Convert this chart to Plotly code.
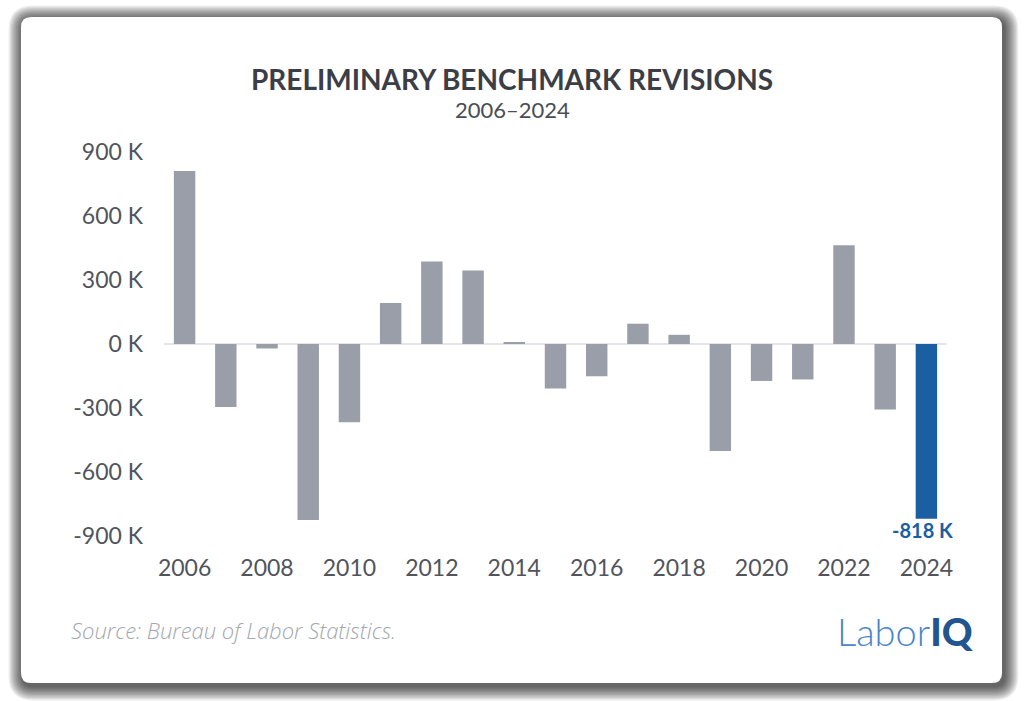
import plotly.graph_objects as go

years = list(range(2006, 2025))
revisions_k = [810, -295, -21, -824, -366, 192, 386, 344, 7, -208, -151, 95, 43,
               -501, -173, -166, 462, -306, -818]
y_ticks = [-900, -600, -300, 0, 300, 600, 900]
y_tick_labels = [f"{v} K" for v in y_ticks]
x_ticks = list(range(2006, 2025, 2))
title_text = "PRELIMINARY BENCHMARK REVISIONS"
subtitle_text = "2006\u20132024"
source_text = "Source: Bureau of Labor Statistics."

W, H = 1024, 701
ML, MR, MT, MB = 164, 77, 141, 154
PW, PH = W - ML - MR, H - MT - MB

GRAY = "#9a9ea8"
BLUE = "#1b5fa2"
colors = [GRAY] * (len(years) - 1) + [BLUE]


def px(x):
    return (x - ML) / PW


def py(y):
    return 1 - (y - MT) / PH


def rrect(x0, y0, x1, y1, r):
    pts = [
        f"M {px(x0 + r)} {py(y0)}",
        f"L {px(x1 - r)} {py(y0)}",
        f"Q {px(x1)} {py(y0)} {px(x1)} {py(y0 + r)}",
        f"L {px(x1)} {py(y1 - r)}",
        f"Q {px(x1)} {py(y1)} {px(x1 - r)} {py(y1)}",
        f"L {px(x0 + r)} {py(y1)}",
        f"Q {px(x0)} {py(y1)} {px(x0)} {py(y1 - r)}",
        f"L {px(x0)} {py(y0 + r)}",
        f"Q {px(x0)} {py(y0)} {px(x0 + r)} {py(y0)} Z",
    ]
    return " ".join(pts)


shapes = []
# soft shadow
cx0, cy0, cx1, cy1 = 21, 17, 1002, 683
for i in range(12, 0, -1):
    e = i * 1.2
    shapes.append(dict(
        type="path", xref="paper", yref="paper", layer="below",
        path=rrect(cx0 - e + 2, cy0 - e + 3, cx1 + e + 2, cy1 + e + 3, 10 + e),
        fillcolor="rgba(0,0,0,0.07)", line=dict(width=0),
    ))
shapes.append(dict(
    type="path", xref="paper", yref="paper", layer="below",
    path=rrect(cx0, cy0, cx1, cy1, 10),
    fillcolor="white", line=dict(width=0),
))

fig = go.Figure()
fig.add_trace(go.Bar(
    x=years, y=revisions_k, marker=dict(color=colors, line=dict(width=0)),
    width=0.52, hoverinfo="x+y",
))

annotations = [
    dict(text=f"<b>{title_text}</b>", x=512, y=79, xanchor="center",
         font=dict(family="Lato", size=28, color="#3b3e46")),
    dict(text=subtitle_text, x=512, y=110, xanchor="center",
         font=dict(family="Lato", size=22, color="#4a4d55")),
    dict(text=source_text, x=69, y=630, xanchor="left",
         font=dict(family="Open Sans", size=22, color="#a3a7ae", style="italic", weight=300)),
    dict(text='Labor<span style="font-weight:900;color:#22558f">IQ</span>',
         x=835, y=631, xanchor="left",
         font=dict(family="Lato", size=38, color="#4a86c8", weight=300)),
]
for a in annotations:
    a["xref"] = "paper"
    a["yref"] = "paper"
    a["yanchor"] = "middle"
    a["showarrow"] = False
    a["x"] = px(a["x"])
    a["y"] = py(a["y"])

# value label for the latest year
annotations.append(dict(
    x=years[-1], y=revisions_k[-1], xref="x", yref="y",
    text=f"<b>{revisions_k[-1]} K</b>", showarrow=False, yanchor="top",
    yshift=3, xshift=-4,
    font=dict(family="Lato", size=20, color=BLUE),
))

fig.update_layout(
    width=W, height=H, autosize=False,
    margin=dict(l=ML, r=MR, t=MT, b=MB, pad=0),
    paper_bgcolor="white", plot_bgcolor="rgba(0,0,0,0)",
    showlegend=False, bargap=0.48,
    shapes=shapes, annotations=annotations,
    xaxis=dict(range=[2005.5, 2024.5], tickvals=x_ticks, showgrid=False,
               zeroline=False, showline=False, ticks="", ticklabelstandoff=5,
               tickfont=dict(family="Lato", size=23, color="#51545c")),
    yaxis=dict(range=[-950, 950], tickvals=y_ticks, ticktext=y_tick_labels,
               showgrid=False, zeroline=True, zerolinecolor="#e4e6ea",
               zerolinewidth=2, showline=False, ticks="", ticklabelstandoff=20,
               tickfont=dict(family="Lato", size=23, color="#51545c")),
)

fig.write_html("out.html", config={"displayModeBar": False},
               post_script="document.body.style.margin='0';")
